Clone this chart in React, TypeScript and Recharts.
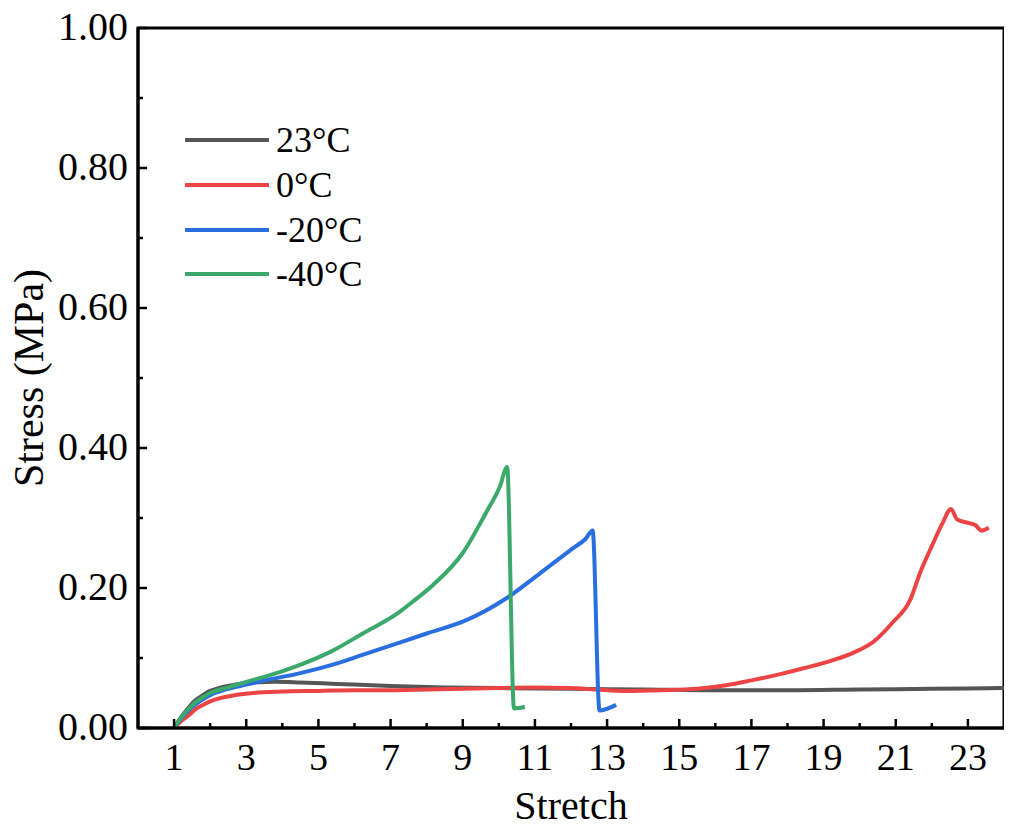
import React from 'react';
import { LineChart, Line, XAxis, YAxis, Legend, Label, ReferenceArea } from 'recharts';

type Pt = { x: number; y: number };

const xTicks = [1, 2, 3, 4, 5, 6, 7, 8, 9, 10, 11, 12, 13, 14, 15, 16, 17, 18, 19, 20, 21, 22, 23];
const yTicks = [0, 0.1, 0.2, 0.3, 0.4, 0.5, 0.6, 0.7, 0.8, 0.9, 1.0];
const xMajor = [1, 3, 5, 7, 9, 11, 13, 15, 17, 19, 21, 23];
const yMajor = [0, 0.2, 0.4, 0.6, 0.8, 1.0];
const seriesNames = ['23°C', '0°C', '-20°C', '-40°C'];
const seriesColors = ['#555555', '#ec4444', '#2a6fdf', '#3aa96a'];

const s23: Pt[] = [
  { x: 1.0, y: 0 }, { x: 1.2, y: 0.016 }, { x: 1.4, y: 0.029 }, { x: 1.6, y: 0.04 },
  { x: 1.8, y: 0.047 }, { x: 2.0, y: 0.053 }, { x: 2.3, y: 0.058 }, { x: 2.7, y: 0.062 },
  { x: 3.2, y: 0.065 }, { x: 3.8, y: 0.066 }, { x: 4.5, y: 0.065 }, { x: 5.5, y: 0.063 },
  { x: 7, y: 0.06 }, { x: 8.5, y: 0.058 }, { x: 10, y: 0.057 }, { x: 12, y: 0.056 },
  { x: 14, y: 0.055 }, { x: 16, y: 0.054 }, { x: 18, y: 0.054 }, { x: 20, y: 0.055 },
  { x: 22, y: 0.056 }, { x: 24, y: 0.057 },
];

const s0: Pt[] = [
  { x: 1.0, y: 0 }, { x: 1.2, y: 0.01 }, { x: 1.4, y: 0.018 }, { x: 1.6, y: 0.027 },
  { x: 1.8, y: 0.033 }, { x: 2.0, y: 0.038 }, { x: 2.3, y: 0.043 }, { x: 2.7, y: 0.047 },
  { x: 3.2, y: 0.05 }, { x: 4, y: 0.052 }, { x: 5, y: 0.053 }, { x: 6, y: 0.054 },
  { x: 7, y: 0.054 }, { x: 8, y: 0.055 }, { x: 9, y: 0.056 }, { x: 10, y: 0.057 },
  { x: 11, y: 0.058 }, { x: 12, y: 0.057 }, { x: 12.7, y: 0.055 }, { x: 13.5, y: 0.053 },
  { x: 14.5, y: 0.054 }, { x: 15.5, y: 0.056 }, { x: 16.3, y: 0.061 }, { x: 17, y: 0.068 },
  { x: 17.8, y: 0.077 }, { x: 18.5, y: 0.086 }, { x: 19.2, y: 0.096 }, { x: 19.8, y: 0.107 },
  { x: 20.4, y: 0.124 }, { x: 20.9, y: 0.15 }, { x: 21.4, y: 0.183 }, { x: 21.7, y: 0.225 },
  { x: 22.0, y: 0.26 }, { x: 22.3, y: 0.293 }, { x: 22.53, y: 0.313 }, { x: 22.7, y: 0.298 },
  { x: 23.0, y: 0.293 }, { x: 23.2, y: 0.29 }, { x: 23.38, y: 0.282 }, { x: 23.58, y: 0.286 },
];

const sm20: Pt[] = [
  { x: 1.0, y: 0 }, { x: 1.2, y: 0.014 }, { x: 1.4, y: 0.025 }, { x: 1.6, y: 0.034 },
  { x: 1.8, y: 0.041 }, { x: 2.0, y: 0.047 }, { x: 2.5, y: 0.056 }, { x: 3, y: 0.062 },
  { x: 3.5, y: 0.068 }, { x: 4.38, y: 0.077 }, { x: 5.3, y: 0.089 }, { x: 6.2, y: 0.104 },
  { x: 7.25, y: 0.122 }, { x: 8, y: 0.135 }, { x: 9.1, y: 0.154 }, { x: 10.2, y: 0.185 },
  { x: 11.14, y: 0.221 }, { x: 12.06, y: 0.257 }, { x: 12.4, y: 0.27 }, { x: 12.6, y: 0.282 },
  { x: 12.79, y: 0.025 }, { x: 13.25, y: 0.033 },
];

const sm40: Pt[] = [
  { x: 1.0, y: 0 }, { x: 1.2, y: 0.015 }, { x: 1.4, y: 0.027 }, { x: 1.6, y: 0.037 },
  { x: 1.8, y: 0.044 }, { x: 2.0, y: 0.05 }, { x: 2.5, y: 0.058 }, { x: 3, y: 0.066 },
  { x: 3.5, y: 0.073 }, { x: 4.38, y: 0.088 }, { x: 5.3, y: 0.108 }, { x: 6.23, y: 0.135 },
  { x: 7.25, y: 0.166 }, { x: 7.6, y: 0.18 }, { x: 8.17, y: 0.204 }, { x: 9.0, y: 0.25 },
  { x: 9.66, y: 0.309 }, { x: 10.03, y: 0.345 }, { x: 10.23, y: 0.373 }, { x: 10.42, y: 0.028 },
  { x: 10.72, y: 0.03 },
];

const seriesData = [s23, s0, sm20, sm40];

const FONT = "'Liberation Serif', 'Times New Roman', serif";

const XTick = (props: any) => {
  const { x, y, payload } = props;
  const major = xMajor.includes(payload.value);
  return (
    <g>
      <line x1={x} y1={y} x2={x} y2={y - (major ? 9 : 5)} stroke="#000" strokeWidth={2.5} />
      {major && (
        <text x={x} y={y + 42} textAnchor="middle" fontSize={38} fontFamily={FONT} fill="#000">
          {payload.value}
        </text>
      )}
    </g>
  );
};

const YTick = (props: any) => {
  const { x, y, payload } = props;
  const major = yMajor.some((v) => Math.abs(v - payload.value) < 1e-9);
  return (
    <g>
      <line x1={x} y1={y} x2={x + (major ? 9 : 5)} y2={y} stroke="#000" strokeWidth={2.5} />
      {major && (
        <text x={x - 10} y={y + 12} textAnchor="end" fontSize={40} fontFamily={FONT} fill="#000">
          {payload.value.toFixed(2)}
        </text>
      )}
    </g>
  );
};

const renderLegend = () => {
  return (
    <div style={{ display: 'flex', flexDirection: 'column' }}>
      {seriesNames.map((name, i) => (
        <div key={name} style={{ display: 'flex', alignItems: 'center', height: 44.7 }}>
          <svg width={84} height={8} style={{ display: 'block' }}>
            <line x1={1} y1={4} x2={83} y2={4} stroke={seriesColors[i]} strokeWidth={4} strokeLinecap="round" />
          </svg>
          <span style={{ marginLeft: 7, fontSize: 36, fontFamily: FONT, color: '#000', lineHeight: '44px' }}>
            {name}
          </span>
        </div>
      ))}
    </div>
  );
};

export default function App() {
  return (
    <div style={{ width: 1012, height: 832, margin: -8, background: '#fff' }}>
      <LineChart width={1012} height={832} margin={{ top: 28, right: 8, left: 0, bottom: 0 }}>
        <XAxis
          xAxisId="b"
          type="number"
          dataKey="x"
          domain={[0, 24]}
          ticks={xTicks}
          interval={0}
          tickSize={0}
          tickMargin={0}
          tickLine={false}
          tick={<XTick />}
          axisLine={{ stroke: '#000', strokeWidth: 3 }}
          height={104}
          allowDataOverflow
        >
          <Label
            content={(p: any) => {
              const vb = p.viewBox;
              return (
                <text x={vb.x + vb.width / 2} y={819} textAnchor="middle" fontSize={40} fontFamily={FONT} fill="#000">
                  Stretch
                </text>
              );
            }}
          />
        </XAxis>
        <YAxis
          yAxisId="l"
          type="number"
          domain={[0, 1]}
          ticks={yTicks}
          interval={0}
          tickSize={0}
          tickMargin={0}
          tickLine={false}
          tick={<YTick />}
          axisLine={{ stroke: '#000', strokeWidth: 3 }}
          width={138}
          allowDataOverflow
        >
          <Label
            content={(p: any) => {
              const vb = p.viewBox;
              const cy = vb.y + vb.height / 2;
              return (
                <text
                  transform={`translate(43, ${cy}) rotate(-90)`}
                  textAnchor="middle"
                  fontSize={42}
                  fontFamily={FONT}
                  fill="#000"
                >
                  Stress (MPa)
                </text>
              );
            }}
          />
        </YAxis>
        <ReferenceArea
          xAxisId="b"
          yAxisId="l"
          x1={0}
          x2={24}
          y1={0}
          y2={1}
          fill="none"
          fillOpacity={0}
          stroke="#000"
          strokeWidth={3}
          ifOverflow="visible"
        />
        <Legend
          content={renderLegend}
          layout="vertical"
          verticalAlign="middle"
          align="center"
          wrapperStyle={{ position: 'absolute', left: 185, top: 118, width: 'auto', height: 'auto' }}
        />
        {seriesData.map((d, i) => (
          <Line
            key={seriesNames[i]}
            xAxisId="b"
            yAxisId="l"
            data={d}
            dataKey="y"
            name={seriesNames[i]}
            type="monotone"
            stroke={seriesColors[i]}
            strokeWidth={4}
            dot={false}
            isAnimationActive={false}
          />
        ))}
      </LineChart>
    </div>
  );
}
